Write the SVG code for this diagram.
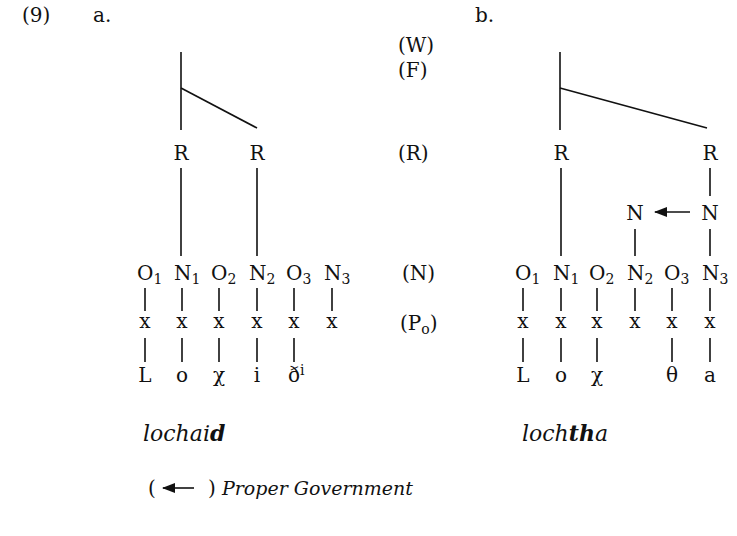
<svg xmlns="http://www.w3.org/2000/svg" width="737" height="536" viewBox="0 0 737 536">
<style>
text{font-family:"DejaVu Serif","Liberation Serif",serif;font-size:20px;fill:#111}
.m{text-anchor:middle}
.it{font-style:italic}
.w{font-size:22px}
.sub{font-size:14px}
line{stroke:#111;stroke-width:1.6;fill:none}
</style>
<defs>
<marker id="ah" markerWidth="13" markerHeight="10" refX="12" refY="5" orient="auto" markerUnits="userSpaceOnUse">
<path d="M0,0 L13,5 L0,10 Z" fill="#111"/>
</marker>
</defs>
<rect width="737" height="536" fill="#fff"/>
<g id="headers">
<text x="22" y="22">(9)</text>
<text x="93" y="22">a.</text>
<text x="475" y="22">b.</text>
</g>
<g id="levels">
<text x="398" y="52">(W)</text>
<text x="398" y="77">(F)</text>
<text x="398" y="160">(R)</text>
<text x="402" y="280">(N)</text>
<text x="400" y="330">(P<tspan class="sub" dy="4">o</tspan><tspan dy="-4">)</tspan></text>
</g>
<g id="connectors">
<line x1="181" y1="52" x2="181" y2="130"/>
<line x1="181" y1="88" x2="257" y2="128"/>
<line x1="181" y1="168" x2="181" y2="256"/>
<line x1="257" y1="168" x2="257" y2="256"/>
<line x1="145" y1="288" x2="145" y2="311"/>
<line x1="182" y1="288" x2="182" y2="311"/>
<line x1="219" y1="288" x2="219" y2="311"/>
<line x1="257" y1="288" x2="257" y2="311"/>
<line x1="294" y1="288" x2="294" y2="311"/>
<line x1="332" y1="288" x2="332" y2="311"/>
<line x1="145" y1="338" x2="145" y2="362"/>
<line x1="182" y1="338" x2="182" y2="362"/>
<line x1="219" y1="338" x2="219" y2="362"/>
<line x1="257" y1="338" x2="257" y2="362"/>
<line x1="294" y1="338" x2="294" y2="362"/>
<line x1="560" y1="52" x2="560" y2="130"/>
<line x1="560" y1="88" x2="707" y2="128"/>
<line x1="561" y1="168" x2="561" y2="256"/>
<line x1="710" y1="168" x2="710" y2="196"/>
<line x1="690" y1="212" x2="655" y2="212" marker-end="url(#ah)"/>
<line x1="635" y1="229" x2="635" y2="256"/>
<line x1="710" y1="229" x2="710" y2="256"/>
<line x1="523" y1="288" x2="523" y2="311"/>
<line x1="561" y1="288" x2="561" y2="311"/>
<line x1="597" y1="288" x2="597" y2="311"/>
<line x1="635" y1="288" x2="635" y2="311"/>
<line x1="672" y1="288" x2="672" y2="311"/>
<line x1="710" y1="288" x2="710" y2="311"/>
<line x1="523" y1="338" x2="523" y2="362"/>
<line x1="561" y1="338" x2="561" y2="362"/>
<line x1="597" y1="338" x2="597" y2="362"/>
<line x1="672" y1="338" x2="672" y2="362"/>
<line x1="710" y1="338" x2="710" y2="362"/>
</g>
<g id="tree-a">
<text class="m" x="181" y="160">R</text>
<text class="m" x="257" y="160">R</text>
<text x="137" y="280">O<tspan class="sub" dy="4">1</tspan></text>
<text x="174" y="280">N<tspan class="sub" dy="4">1</tspan></text>
<text x="211" y="280">O<tspan class="sub" dy="4">2</tspan></text>
<text x="249" y="280">N<tspan class="sub" dy="4">2</tspan></text>
<text x="286" y="280">O<tspan class="sub" dy="4">3</tspan></text>
<text x="324" y="280">N<tspan class="sub" dy="4">3</tspan></text>
<text class="m" x="145" y="328">x</text>
<text class="m" x="182" y="328">x</text>
<text class="m" x="219" y="328">x</text>
<text class="m" x="257" y="328">x</text>
<text class="m" x="294" y="328">x</text>
<text class="m" x="332" y="328">x</text>
<text class="m" x="145" y="382">L</text>
<text class="m" x="182" y="382">o</text>
<text class="m" x="219" y="382">χ</text>
<text class="m" x="257" y="382">i</text>
<text x="288" y="382">ð<tspan class="sub" dy="-7">i</tspan></text>
<text class="it w" x="143" y="441">lochai<tspan font-weight="bold">d</tspan></text>
</g>
<g id="tree-b">
<text class="m" x="561" y="160">R</text>
<text class="m" x="710" y="160">R</text>
<text class="m" x="635" y="220">N</text>
<text class="m" x="710" y="220">N</text>
<text x="515" y="280">O<tspan class="sub" dy="4">1</tspan></text>
<text x="553" y="280">N<tspan class="sub" dy="4">1</tspan></text>
<text x="589" y="280">O<tspan class="sub" dy="4">2</tspan></text>
<text x="627" y="280">N<tspan class="sub" dy="4">2</tspan></text>
<text x="664" y="280">O<tspan class="sub" dy="4">3</tspan></text>
<text x="702" y="280">N<tspan class="sub" dy="4">3</tspan></text>
<text class="m" x="523" y="328">x</text>
<text class="m" x="561" y="328">x</text>
<text class="m" x="597" y="328">x</text>
<text class="m" x="635" y="328">x</text>
<text class="m" x="672" y="328">x</text>
<text class="m" x="710" y="328">x</text>
<text class="m" x="523" y="382">L</text>
<text class="m" x="561" y="382">o</text>
<text class="m" x="597" y="382">χ</text>
<text class="m" x="672" y="382">θ</text>
<text class="m" x="710" y="382">a</text>
<text class="it w" x="522" y="441">loch<tspan font-weight="bold">th</tspan>a</text>
</g>
<g id="legend">
<text x="148" y="495">(</text>
<line x1="194" y1="488" x2="163" y2="488" marker-end="url(#ah)"/>
<text x="208" y="495">)</text>
<text class="it" x="222" y="495" style="font-size:19px">Proper Government</text>
</g>
</svg>
